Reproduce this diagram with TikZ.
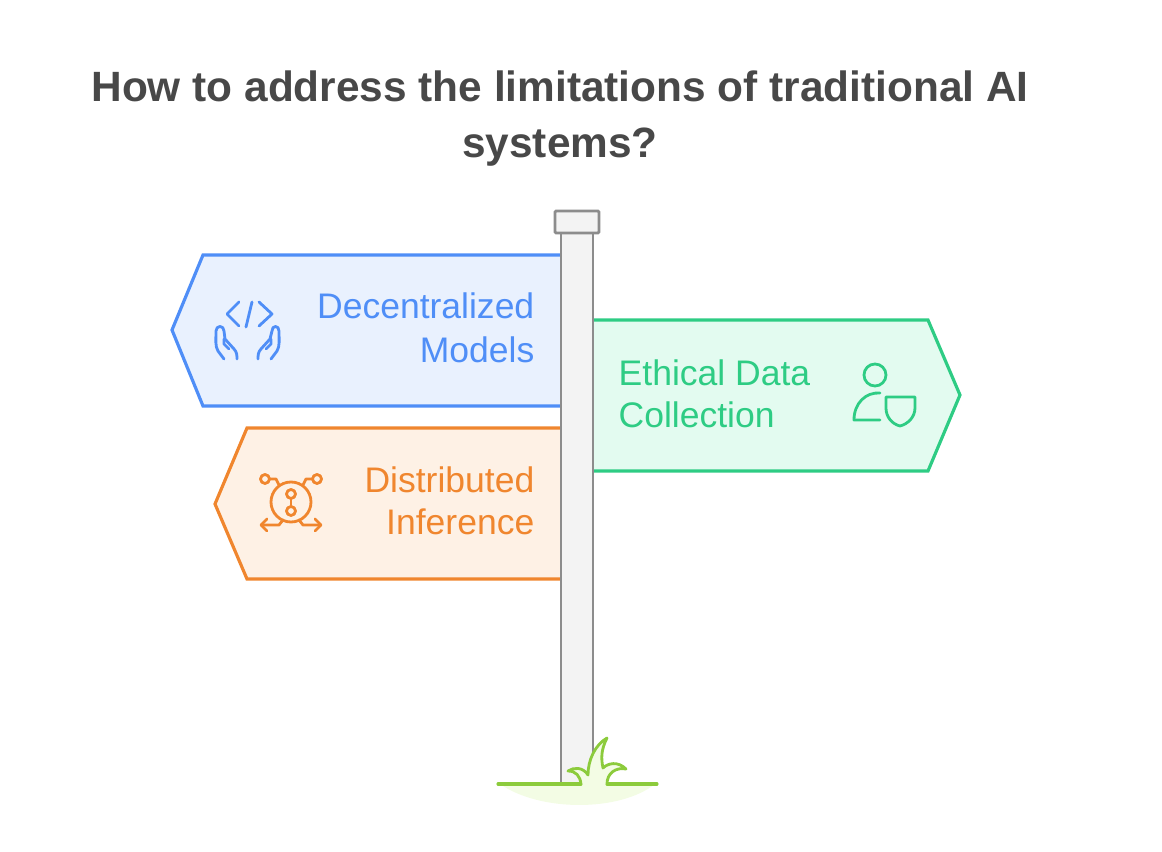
\documentclass[tikz,border=0pt]{standalone}
\usepackage{fontspec}
\setmainfont{Liberation Sans}
\definecolor{bluesign}{HTML}{4F8EF7}
\definecolor{bluefill}{HTML}{E9F1FE}
\definecolor{orangesign}{HTML}{F0862E}
\definecolor{orangefill}{HTML}{FEF1E5}
\definecolor{greensign}{HTML}{2ECC84}
\definecolor{greenfill}{HTML}{E3FBF0}
\definecolor{postline}{HTML}{8C8C8C}
\definecolor{postfill}{HTML}{F3F3F3}
\definecolor{grassline}{HTML}{8CCB3C}
\definecolor{grassfill}{HTML}{F3FCE4}
\definecolor{titlecolor}{HTML}{484848}
\tikzset{
  signlabel/.style={align=right, inner sep=0pt, font=\fontsize{10.1}{12.1}\selectfont},
  iconline/.style={line width=0.8pt, line cap=round, line join=round},
}
\begin{document}
\begin{tikzpicture}[x=0.01cm,y=-0.01cm]
\useasboundingbox (0,0) rectangle (1162,852);
% draw the title
\node[align=center, font=\fontsize{12.05}{15.9}\bfseries\selectfont, text=titlecolor] (title) at (560,119) {How to address the limitations of traditional AI\\systems?};

% draw the grass glow
\fill[grassfill] (500,784) .. controls (540,812) and (620,812) .. (655,784) -- cycle;

% draw the signs
\draw[bluesign, fill=bluefill, line width=0.9pt] (560,255) -- (203,255) -- (172,330) -- (203,406) -- (560,406);
\draw[orangesign, fill=orangefill, line width=0.9pt] (560,428) -- (247,428) -- (215,504) -- (247,579) -- (560,579);
\draw[greensign, fill=greenfill, line width=0.9pt] (594,320) -- (928,320) -- (960,395) -- (928,471) -- (594,471);

% draw the post
\draw[postline, fill=postfill, line width=0.8pt] (561,784) -- (561,233) -- (593,233) -- (593,784);
\draw[postline, fill=postfill, line width=0.8pt, rounded corners=0.3pt] (555,211) rectangle (599,233);

% draw the sign texts
\node[signlabel, anchor=east, text=bluesign] (decentralized) at (535,328) {Decentralized\\[0.57pt]Models};
\node[signlabel, anchor=east, text=orangesign] (distributed) at (535,501) {Distributed\\Inference};
\node[signlabel, anchor=west, align=left, text=greensign] (ethical) at (618,394) {Ethical Data\\Collection};

% draw the code and hands icon
\begin{scope}[iconline, bluesign]
\draw (239,302) -- (227,314) -- (239,326);
\draw (259,302) -- (272,314) -- (259,326);
\draw (252,302) -- (246,327);
\draw (224,359) -- (218,351) .. controls (215,346) and (216,340) .. (216,331) .. controls (216,325) and (224,325) .. (224,331) -- (225,339) -- (234,349) .. controls (237,352) and (237,356) .. (237,359);
\draw (224,339) -- (224,344) -- (229,349);
\draw (271,359) -- (277,351) .. controls (280,346) and (279,340) .. (279,331) .. controls (279,325) and (272,325) .. (272,331) -- (270,339) -- (261,349) .. controls (258,352) and (258,356) .. (258,359);
\draw (271,339) -- (271,344) -- (266,349);
\end{scope}

% draw the distributed icon
\begin{scope}[iconline, orangesign]
\draw (291,502) circle (20);
\draw (291,494) circle (4.5);
\draw (291,511) circle (4.5);
\draw (291,498.5) -- (291,506.5);
\draw (265,479) circle (4.5);
\draw (317,479) circle (4.5);
\draw (269.5,479) -- (276,479) -- (279,485);
\draw (312.5,479) -- (306,479) -- (303,485);
\draw (261,525) -- (279,525) -- (283,520);
\draw (321,525) -- (303,525) -- (299,520);
\draw (267,519) -- (261,525) -- (267,531);
\draw (315,519) -- (321,525) -- (315,531);
\end{scope}

% draw the person and shield icon
\begin{scope}[iconline, greensign]
\draw (875,375) circle (11);
\draw (880,393) .. controls (866,392) and (854,403) .. (854,420) -- (880,420);
\draw (886,397) -- (915,397) -- (915,408) .. controls (915,417) and (908,424) .. (900,426) .. controls (892,424) and (886,417) .. (886,408) -- cycle;
\end{scope}

% draw the ground and the grass
\draw[grassline, line width=0.9pt, line cap=round] (498,784) -- (581,784);
\draw[grassline, line width=0.9pt, line cap=round] (607,784) -- (657,784);
\draw[grassline, fill=grassfill, line width=0.8pt, line join=round] (581,784) .. controls (580,776) and (576,771) .. (568,771) .. controls (574,767) and (583,767) .. (588,775) .. controls (588,760) and (595,745) .. (607,738) .. controls (601,750) and (601,758) .. (603,768) .. controls (608,763) and (618,761) .. (626,769) .. controls (616,767) and (607,773) .. (607,784);
\end{tikzpicture}
\end{document}
